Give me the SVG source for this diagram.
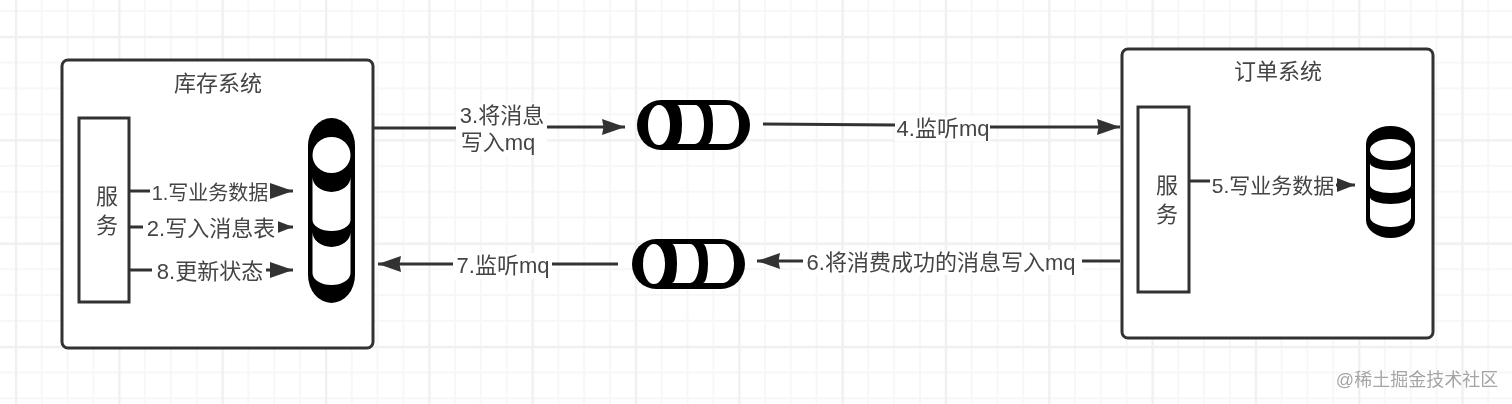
<svg xmlns="http://www.w3.org/2000/svg" width="1512" height="404" viewBox="0 0 1512 404">
<style>
text{font-family:"Liberation Sans","Noto Sans CJK SC",sans-serif;fill:#444;font-size:22px;font-weight:400;text-anchor:middle}
.box{fill:#fff;stroke:#333;stroke-width:3}
.conn{fill:none;stroke:#333;stroke-width:3}
.lab{fill:#fff}
.blk{fill:#000}
.wht{fill:#fff}
.t20{font-size:20px}
.t21{font-size:21px}
.wm{font-size:18px;fill:#8f8f8f;fill-opacity:.8}
</style>
<defs>
<filter id="soft" x="0" y="0" width="100%" height="100%"><feGaussianBlur stdDeviation="0.5"/></filter>
<marker id="big" markerUnits="userSpaceOnUse" markerWidth="23" markerHeight="16" refX="23" refY="8" orient="auto"><path d="M0 0L23 8L0 16L1.5 8Z" fill="#333"/></marker>
<marker id="mid" markerUnits="userSpaceOnUse" markerWidth="23" markerHeight="16" refX="23" refY="8" orient="auto"><path d="M0 0L23 8L0 16Z" fill="#333"/></marker>
<marker id="small" markerUnits="userSpaceOnUse" markerWidth="18" markerHeight="14" refX="18" refY="7" orient="auto"><path d="M0 0L18 7L0 14Z" fill="#333"/></marker>
<pattern id="minor" patternUnits="userSpaceOnUse" x="3" y="-2" width="25.83" height="25.83"><path d="M13 0V25.83M0 13H25.83" fill="none" stroke="#f7f7f7" stroke-width="2"/></pattern>
<pattern id="major" patternUnits="userSpaceOnUse" x="15" y="36" width="103.32" height="103.32"><path d="M1 0V103.32M0 1H103.32" fill="none" stroke="#f0f0f0" stroke-width="2.5"/></pattern>
</defs>
<g filter="url(#soft)">
<rect width="1512" height="404" fill="#fff"/>
<rect width="1512" height="404" fill="url(#minor)"/>
<rect width="1512" height="404" fill="url(#major)"/>

<g id="inventory-system">
<rect class="box" x="62" y="60" width="311" height="288" rx="6"/>
<text x="218" y="91">库存系统</text>
</g>
<g id="order-system">
<rect class="box" x="1122" y="49" width="311" height="289" rx="6"/>
<text x="1278" y="79">订单系统</text>
</g>

<g id="connectors">
<path class="conn" d="M374 128H456L547 127H625" marker-end="url(#big)"/>
<path class="conn" d="M763 124L895 125L990 127H1120" marker-end="url(#big)"/>
<path class="conn" d="M618 264H378" marker-end="url(#big)"/>
<path class="conn" d="M1120 261H757" marker-end="url(#big)"/>
<path class="conn" d="M130 191H293" marker-end="url(#mid)"/>
<path class="conn" d="M130 227H293" marker-end="url(#small)"/>
<path class="conn" d="M130 270H293" marker-end="url(#mid)"/>
<path class="conn" d="M1190 181L1210 181L1336 185H1355" marker-end="url(#small)"/>
</g>

<g id="service-left">
<rect class="box" x="79" y="118" width="50" height="184"/>
<text><tspan x="107" y="204">服</tspan><tspan x="107" y="233">务</tspan></text>
</g>
<g id="service-right">
<rect class="box" x="1138" y="107" width="51" height="185"/>
<text><tspan x="1167" y="193">服</tspan><tspan x="1167" y="222">务</tspan></text>
</g>

<g id="db-left">
<rect class="blk" x="308" y="118" width="47" height="185" rx="23.5" ry="28"/>
<ellipse class="wht" cx="331.5" cy="155" rx="19" ry="18"/>
<path class="wht" d="M312.5 177A19 15 0 0 0 350.5 177V220A19 11 0 0 1 312.5 220Z"/>
<path class="wht" d="M312.5 232A19 15 0 0 0 350.5 232V273A19 12 0 0 1 312.5 273Z"/>
</g>
<g id="db-right">
<rect class="blk" x="1366" y="126" width="49" height="112" rx="24.5" ry="18"/>
<ellipse class="wht" cx="1390.5" cy="150" rx="20.5" ry="11"/>
<path class="wht" d="M1370 163A20.5 7 0 0 0 1411 163V185A20.5 8 0 0 1 1370 185Z"/>
<path class="wht" d="M1370 197A20.5 7 0 0 0 1411 197V217A20.5 10 0 0 1 1370 217Z"/>
</g>
<g id="queue-top">
<rect class="blk" x="637" y="100" width="113" height="50" rx="24" ry="25"/>
<ellipse class="wht" cx="659" cy="125" rx="11" ry="20"/>
<path class="wht" d="M677 105H695A9 19.5 0 0 1 695 144H677A5 19.5 0 0 0 677 105Z"/>
<path class="wht" d="M708 105H728A11 19.5 0 0 1 728 144H708A5 19.5 0 0 0 708 105Z"/>
</g>
<g id="queue-bottom">
<rect class="blk" x="632" y="239" width="113" height="50" rx="24" ry="25"/>
<ellipse class="wht" cx="654" cy="264" rx="11" ry="20"/>
<path class="wht" d="M672 244H690A9 19.5 0 0 1 690 283H672A5 19.5 0 0 0 672 244Z"/>
<path class="wht" d="M703 244H723A11 19.5 0 0 1 723 283H703A5 19.5 0 0 0 703 244Z"/>
</g>

<g id="labels">
<rect class="lab" x="456" y="103" width="91" height="52"/>
<text><tspan x="502" y="123">3.将消息</tspan><tspan x="498" y="150">写入mq</tspan></text>
<rect class="lab" x="895" y="117" width="95" height="24"/>
<text x="943" y="136">4.监听mq</text>
<rect class="lab" x="453" y="253" width="99" height="26"/>
<text x="503" y="273">7.监听mq</text>
<rect class="lab" x="803" y="250" width="279" height="25"/>
<text x="941" y="270">6.将消费成功的消息写入mq</text>
<rect class="lab" x="150" y="180" width="120" height="24"/>
<text class="t20" x="210" y="200">1.写业务数据</text>
<rect class="lab" x="143" y="216" width="135" height="24"/>
<text x="211" y="236">2.写入消息表</text>
<rect class="lab" x="152" y="258" width="114" height="26"/>
<text x="210" y="279">8.更新状态</text>
<rect class="lab" x="1210" y="173" width="126" height="24"/>
<text class="t21" x="1273" y="193">5.写业务数据</text>
</g>
<text class="wm" x="1417" y="386">@稀土掘金技术社区</text>
</g>
</svg>
